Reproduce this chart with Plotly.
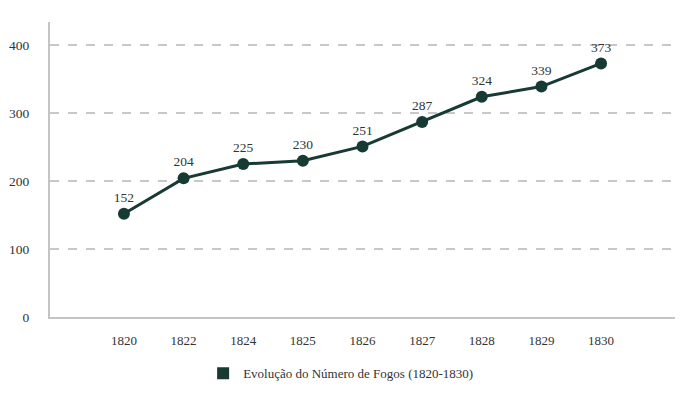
import plotly.graph_objects as go

years = ["1820", "1822", "1824", "1825", "1826", "1827", "1828", "1829", "1830"]
fogos = [152, 204, 225, 230, 251, 287, 324, 339, 373]
y_ticks = [0, 100, 200, 300, 400]

color = "#173b34"
font_family = "Liberation Serif, DejaVu Serif, serif"
xidx = list(range(len(years)))

fig = go.Figure()
fig.add_trace(go.Scatter(
    x=xidx, y=fogos, mode="lines+markers+text",
    line=dict(color=color, width=3),
    marker=dict(color=color, size=12),
    text=[str(v) for v in fogos], textposition="top center",
    textfont=dict(family=font_family, size=13.5, color="#333333"),
    showlegend=False, cliponaxis=False,
))
fig.add_trace(go.Scatter(
    x=[None], y=[None], mode="markers",
    marker=dict(symbol="square", color=color, size=16),
    name="Evolução do Número de Fogos (1820-1830)",
    showlegend=True,
))

fig.update_layout(
    width=696, height=393,
    margin=dict(l=42, r=29, t=14, b=84, autoexpand=False),
    paper_bgcolor="white", plot_bgcolor="white",
    font=dict(family=font_family, size=13, color="#333333"),
    legend=dict(orientation="h", x=0.465, xanchor="center", y=-0.14, yanchor="top",
                font=dict(family=font_family, size=13, color="#333333"),
                itemsizing="constant"),
    xaxis=dict(
        range=[-1.24, 8 + 1.24], tickvals=xidx, ticktext=years,
        showgrid=False, zeroline=False, automargin=False,
        showline=True, linecolor="#c4c4c4", linewidth=2,
        ticks="", ticklabelstandoff=10,
        tickfont=dict(family=font_family, size=13, color="#333333"),
    ),
    yaxis=dict(
        range=[0, 434], tickvals=y_ticks,
        showgrid=True, gridcolor="#c8c8c8", gridwidth=1.5, griddash="dash",
        zeroline=False, automargin=False,
        showline=True, linecolor="#c4c4c4", linewidth=2,
        ticks="", ticklabelstandoff=16,
        tickfont=dict(family=font_family, size=13.5, color="#333333"),
    ),
)

fig.write_html("out.html")
